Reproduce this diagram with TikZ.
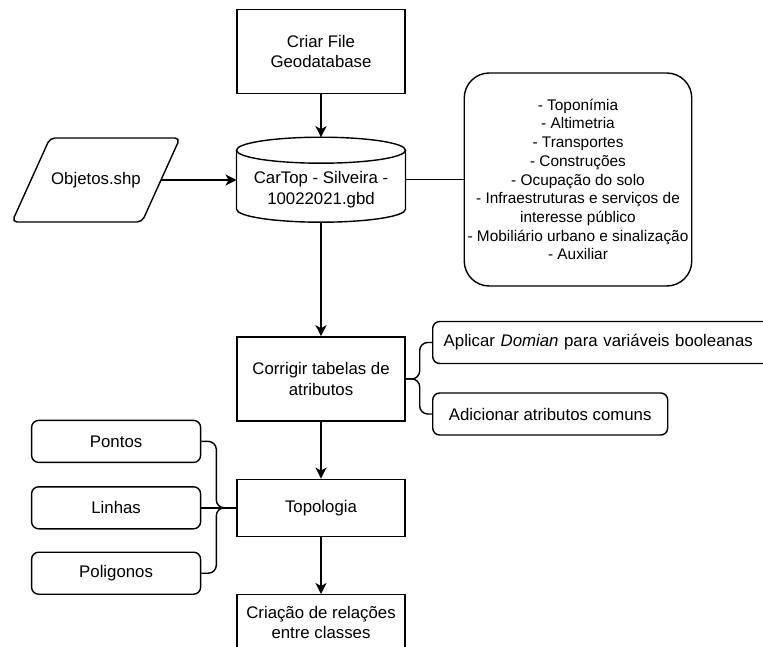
\documentclass[tikz,border=0pt]{standalone}
\usepackage{fontspec}
\setmainfont{Liberation Sans}
\usetikzlibrary{positioning, calc, arrows.meta}
\tikzset{
	>={Stealth[length=11pt, width=11pt, inset=3pt]},
	every node/.style={font=\fontsize{16.8}{20.2}\selectfont},
	passo/.style={draw, minimum width=168pt, minimum height=84pt, align=center, inner sep=0pt},
	item/.style={draw, rounded corners=7pt, minimum height=42pt, align=center},
	chave/.style={rounded corners=8pt}}

\begin{document}
\begin{tikzpicture}[x=1pt, y=1pt, line width=1.4pt]
		\useasboundingbox (0,0) rectangle (763,646);
		\clip (0,0) rectangle (763,646);
		
		% coluna principal
		\node[passo] (criar) at (321,594.5) {Criar File\\Geodatabase};
		\node[minimum width=169pt, minimum height=85pt, outer sep=0pt, below=43pt of criar,
			label={[align=center, yshift=-10pt]center:CarTop - Silveira -\\10022021.gbd}] (db) {};
		\draw ([yshift=-13pt]db.north west) -- ([yshift=13pt]db.south west)
			arc[start angle=180, end angle=360, x radius=84.5, y radius=13] -- ([yshift=-13pt]db.north east);
		\draw ([yshift=-13pt]db.north) ellipse [x radius=84.5, y radius=13];
		
		\node[passo, below=114pt of db] (corrigir) {Corrigir tabelas de\\atributos};
		\node[passo, minimum height=57pt, below=57pt of corrigir] (topo) {Topologia};
		\node[passo, minimum height=56pt, below=57pt of topo] (criacao) {Criação de relações\\entre classes};
		
		% entrada
		\node[minimum width=130pt, minimum height=84pt, outer sep=0pt] (objetos) at (96,466) {Objetos.shp};
		\draw[rounded corners=5pt] ($(objetos.south west)+(-19,0)$) -- ($(objetos.south east)+(-19,0)$)
			-- ($(objetos.north east)+(19,0)$) -- ($(objetos.north west)+(19,0)$) -- cycle;
		
		% classes
		\node[draw, rounded corners=25pt, minimum width=226pt, minimum height=213pt, align=center,
			font=\fontsize{15.4}{18.7}\selectfont] (camadas) at (578,466.5)
			{- Toponímia\\- Altimetria\\- Transportes\\- Construções\\- Ocupação do solo\\
			- Infraestruturas e serviços de\\interesse público\\- Mobiliário urbano e sinalização\\- Auxiliar};
		
		% tabelas
		\node[item, anchor=west, text width=330pt, align=left, inner xsep=11pt] (aplicar) at (432,303.5)
			{Aplicar \textit{Domian} para variáveis booleanas};
		\node[item, anchor=west, minimum width=235pt] (adicionar) at (432,232) {Adicionar atributos comuns};
		
		% geometrias
		\node[item, minimum width=169pt, left=35pt of topo] (linhas) {Linhas};
		\node[item, minimum width=169pt, above=23pt of linhas] (pontos) {Pontos};
		\node[item, minimum width=169pt, below=22pt of linhas] (poligonos) {Poligonos};
		
		\draw[->] (criar) -- (db.north);
		\draw[->] (db) -- (corrigir);
		\draw[->] (corrigir) -- (topo);
		\draw[->] (topo) -- (criacao);
		\draw[->] (objetos.east) -- (objetos.east -| db.west);
		\draw (db.east |- camadas.west) -- (camadas.west);
		
		\coordinate (jd) at ($(corrigir.east)+(14,0)$);
		\draw[chave] (aplicar.west) -| (jd) -- (corrigir.east);
		\draw[chave] (adicionar.west) -| (jd) -- (corrigir.east);
		
		\coordinate (je) at ($(topo.west)+(-20,0)$);
		\draw[chave] (pontos.east) -| (je) -- (topo.west);
		\draw[chave] (poligonos.east) -| (je) -- (topo.west);
		\draw (linhas) -- (topo);
	\end{tikzpicture}
\end{document}
